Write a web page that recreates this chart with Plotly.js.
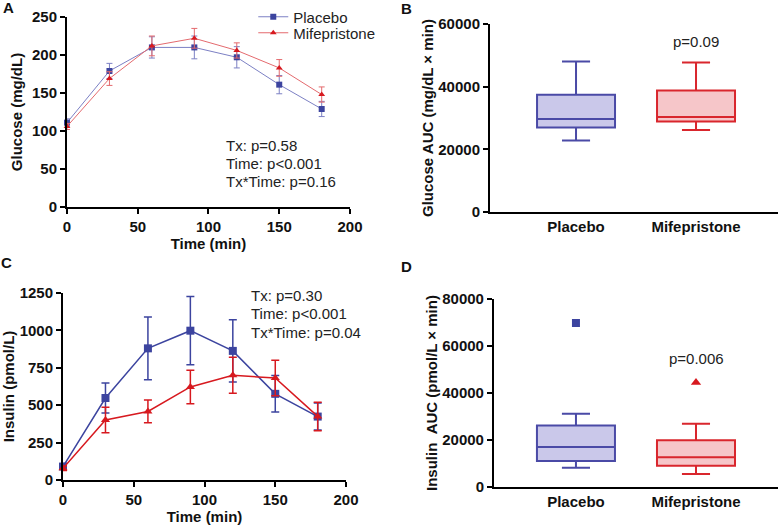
<!DOCTYPE html>
<html><head><meta charset="utf-8">
<script src="https://cdn.plot.ly/plotly-3.0.1.min.js"></script>
<style>html,body{margin:0;padding:0;background:#fff}#chart{width:780px;height:530px}</style>
</head><body><div id="chart"></div>
<script>
const times = [0, 30, 60, 90, 120, 150, 180];
const groups = ['Placebo', 'Mifepristone'];
// Panel A: glucose (mg/dL)
const glucosePlacebo = [111, 179, 210, 210, 197, 161, 129];
const glucosePlaceboErr = [5, 10, 14, 15, 14, 12, 10];
const glucoseMife = [106, 169, 212, 222, 206, 183, 148];
const glucoseMifeErr = [4, 9, 13, 13, 10, 11, 10];
// Panel C: insulin (pmol/L)
const insulinPlacebo = [90, 548, 880, 998, 863, 576, 424];
const insulinPlaceboErr = [20, 100, 210, 228, 208, 122, 90];
const insulinMife = [78, 401, 458, 622, 700, 682, 425];
const insulinMifeErr = [15, 85, 76, 112, 120, 118, 95];
// Panel B: glucose AUC box stats [lowerfence, q1, median, q3, upperfence]
const gAucPlacebo = [22800, 27000, 29700, 37400, 48000];
const gAucMife = [26200, 28900, 30300, 38800, 47700];
// Panel D: insulin AUC box stats
const iAucPlacebo = [8200, 11100, 17000, 26200, 31200];
const iAucMife = [5500, 9100, 12700, 19900, 26900];
const iAucOutPlacebo = [69800];
const iAucOutMife = [44500];
// Statistics text
const statsA = ['Tx: p=0.58', 'Time: p<0.001', 'Tx*Time: p=0.16'];
const statsC = ['Tx: p=0.30', 'Time: p<0.001', 'Tx*Time: p=0.04'];

const BLUE = '#3c449f', BLUE_L = '#7c80c4', RED = '#d7191f', RED_L = '#e46a6e';
const BLUE_BOX = '#4a4aa6', BLUE_FILL = '#cac8ea', RED_BOX = '#d9262d', RED_FILL = '#f6c6c9';
const FONT = 'Liberation Sans, Arial, sans-serif';
const FS = 15;

function boxTrace(name, s, xa, ya, lc, fc) {
  return {type: 'box', x: [name], lowerfence: [s[0]], q1: [s[1]], median: [s[2]], q3: [s[3]], upperfence: [s[4]],
    xaxis: xa, yaxis: ya, boxpoints: false, width: 0.65, whiskerwidth: 0.36,
    line: {color: lc, width: 2}, fillcolor: fc, showlegend: false, hoverinfo: 'skip'};
}

const data = [
  {x: times, y: glucosePlacebo, name: 'Placebo', mode: 'lines+markers', xaxis: 'x', yaxis: 'y', legend: 'legend',
   line: {color: BLUE_L, width: 1}, marker: {symbol: 'square', size: 6, color: BLUE},
   error_y: {type: 'data', array: glucosePlaceboErr, color: BLUE_L, thickness: 1, width: 3}, cliponaxis: false},
  {x: times, y: glucoseMife, name: 'Mifepristone', mode: 'lines+markers', xaxis: 'x', yaxis: 'y', legend: 'legend2',
   line: {color: RED_L, width: 1}, marker: {symbol: 'triangle-up', size: 6, color: RED},
   error_y: {type: 'data', array: glucoseMifeErr, color: RED_L, thickness: 1, width: 3}, cliponaxis: false},
  {x: times, y: insulinPlacebo, name: 'Placebo', mode: 'lines+markers', xaxis: 'x3', yaxis: 'y3', showlegend: false,
   line: {color: BLUE, width: 1.5}, marker: {symbol: 'square', size: 8, color: BLUE},
   error_y: {type: 'data', array: insulinPlaceboErr, color: BLUE, thickness: 1.5, width: 4}, cliponaxis: false},
  {x: times, y: insulinMife, name: 'Mifepristone', mode: 'lines+markers', xaxis: 'x3', yaxis: 'y3', showlegend: false,
   line: {color: RED, width: 1.5}, marker: {symbol: 'triangle-up', size: 8, color: RED},
   error_y: {type: 'data', array: insulinMifeErr, color: RED, thickness: 1.5, width: 4}, cliponaxis: false},
  boxTrace(groups[0], gAucPlacebo, 'x2', 'y2', BLUE_BOX, BLUE_FILL),
  boxTrace(groups[1], gAucMife, 'x2', 'y2', RED_BOX, RED_FILL),
  boxTrace(groups[0], iAucPlacebo, 'x4', 'y4', BLUE_BOX, BLUE_FILL),
  boxTrace(groups[1], iAucMife, 'x4', 'y4', RED_BOX, RED_FILL),
  {x: [groups[0]], y: iAucOutPlacebo, mode: 'markers', xaxis: 'x4', yaxis: 'y4', showlegend: false,
   marker: {symbol: 'square', size: 8, color: BLUE}},
  {x: [groups[1]], y: iAucOutMife, mode: 'markers', xaxis: 'x4', yaxis: 'y4', showlegend: false,
   marker: {symbol: 'triangle-up', size: 9, color: RED}}
];

const axBase = {showline: true, linecolor: '#000', linewidth: 2, ticks: 'outside', ticklen: 5, tickwidth: 2,
  tickcolor: '#000', showgrid: false, zeroline: false, tickfont: {family: FONT, size: FS, color: '#111', weight: 'bold'},
  fixedrange: true};
const tf = (t, s) => ({text: t, font: {family: FONT, size: FS, color: '#111', weight: 'bold'}, standoff: s});

function ann(t, x, y, anchor, bold) {
  return {text: t, xref: 'paper', yref: 'paper', x: x / 780, y: 1 - y / 530, xanchor: anchor, yanchor: 'middle',
    align: 'left', showarrow: false, font: {family: FONT, size: FS, color: bold ? '#111' : '#222', weight: bold ? 'bold' : 'normal'}};
}

const annotations = [
  ann('A', 8, 8, 'center', true), ann('B', 406, 9, 'center', true),
  ann('C', 7, 262, 'center', true), ann('D', 406, 266, 'center', true),
  ann('p=0.09', 696, 42, 'center', false), ann('p=0.006', 696, 358, 'center', false)
];
statsA.forEach((t, i) => annotations.push(ann(t, 224, 146 + i * 17.5, 'left', false)));
statsC.forEach((t, i) => annotations.push(ann(t, 249, 295 + i * 18.5, 'left', false)));

const legBase = {xanchor: 'left', yanchor: 'middle', bgcolor: 'rgba(0,0,0,0)',
  font: {family: FONT, size: FS, color: '#222'}, itemwidth: 30, tracegroupgap: 0};

const layout = {
  width: 780, height: 530, margin: {l: 0, r: 0, t: 0, b: 0}, paper_bgcolor: '#fff', plot_bgcolor: 'rgba(0,0,0,0)',
  font: {family: FONT, color: '#222'},
  showlegend: true,
  legend: Object.assign({}, legBase, {x: 0.3247, y: 1 - 17 / 530}),
  legend2: Object.assign({}, legBase, {x: 0.3247, y: 1 - 33 / 530}),
  xaxis: Object.assign({}, axBase, {domain: [0.0859, 0.4487], range: [0, 200], dtick: 50, anchor: 'y', title: tf('Time (min)', 2)}),
  yaxis: Object.assign({}, axBase, {domain: [0.6094, 0.9679], range: [0, 250], dtick: 50, anchor: 'x', title: tf('Glucose (mg/dL)', 6)}),
  xaxis2: Object.assign({}, axBase, {domain: [0.6282, 0.9974], range: [-0.717, 1.683], type: 'category',
    categoryorder: 'array', categoryarray: groups, ticks: '', anchor: 'y2'}),
  yaxis2: Object.assign({}, axBase, {domain: [0.6, 0.9547], range: [0, 60000], dtick: 20000, tickformat: 'd', anchor: 'x2',
    title: tf('Glucose AUC (mg/dL × min)', 1)}),
  xaxis3: Object.assign({}, axBase, {domain: [0.0808, 0.4436], range: [0, 200], dtick: 50, anchor: 'y3', title: tf('Time (min)', 2)}),
  yaxis3: Object.assign({}, axBase, {domain: [0.0943, 0.4472], range: [0, 1250], dtick: 250, anchor: 'x3', title: tf('Insulin (pmol/L)', 6)}),
  xaxis4: Object.assign({}, axBase, {domain: [0.6333, 0.9974], range: [-0.683, 1.683], type: 'category',
    categoryorder: 'array', categoryarray: groups, ticks: '', anchor: 'y4'}),
  yaxis4: Object.assign({}, axBase, {domain: [0.0811, 0.4358], range: [0, 80000], dtick: 20000, tickformat: 'd', anchor: 'x4',
    title: tf('Insulin\u00a0\u00a0AUC (pmol/L × min)', 1)}),
  annotations: annotations
};

Plotly.newPlot('chart', data, layout, {staticPlot: true, displayModeBar: false});
</script></body></html>
